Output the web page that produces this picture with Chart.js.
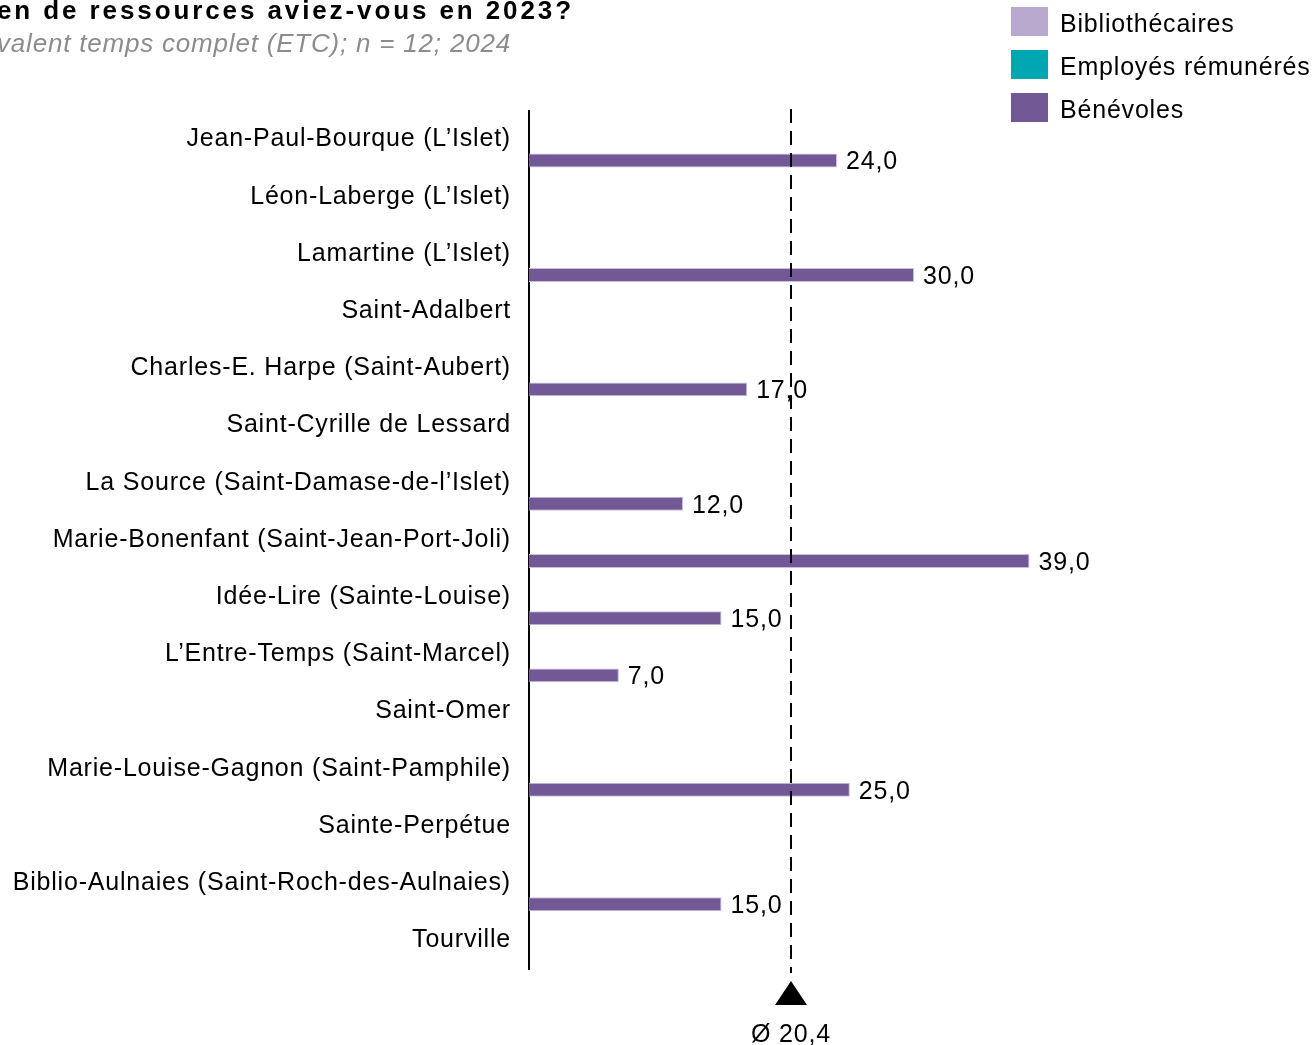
<!DOCTYPE html>
<html><head><meta charset="utf-8">
<script src="https://cdn.jsdelivr.net/npm/chart.js@4/dist/chart.umd.min.js"></script>
<style>html,body{margin:0;padding:0;background:#fff}#wrap{width:1314px;height:1045px;position:relative}</style>
</head><body><div id="wrap"><canvas id="c"></canvas></div>
<script>
const categories = ["Jean-Paul-Bourque (L\u2019Islet)","L\u00e9on-Laberge (L\u2019Islet)","Lamartine (L\u2019Islet)","Saint-Adalbert","Charles-E. Harpe (Saint-Aubert)","Saint-Cyrille de Lessard","La Source (Saint-Damase-de-l\u2019Islet)","Marie-Bonenfant (Saint-Jean-Port-Joli)","Id\u00e9e-Lire (Sainte-Louise)","L\u2019Entre-Temps (Saint-Marcel)","Saint-Omer","Marie-Louise-Gagnon (Saint-Pamphile)","Sainte-Perp\u00e9tue","Biblio-Aulnaies (Saint-Roch-des-Aulnaies)","Tourville"];
const bibliothecaires = [null,null,null,null,null,null,null,null,null,null,null,null,null,null,null];
const employes = [null,null,null,null,null,null,null,null,null,null,null,null,null,null,null];
const benevoles = [24,null,30,null,17,null,12,39,15,7,null,25,null,15,null];
const average = 20.4;
const seriesNames = ["Biblioth\u00e9caires","Employ\u00e9s r\u00e9mun\u00e9r\u00e9s","B\u00e9n\u00e9voles"];
const titleText = "en de ressources aviez-vous en 2023?";
const subtitleText = "valent temps complet (ETC); n = 12; 2024";

const FONT = "'Liberation Sans', Arial, sans-serif";
const fmt = v => v.toFixed(1).replace('.', ',');

const spacing = {
  id: 'spacing',
  beforeDraw(chart) { chart.ctx.letterSpacing = '0.8px'; }
};

const extras = {
  id: 'extras',
  afterDatasetsDraw(chart) {
    const ctx = chart.ctx, ca = chart.chartArea, xs = chart.scales.x;
    ctx.save();
    ctx.letterSpacing = '0.8px';
    // value labels
    ctx.font = "25px " + FONT; ctx.fillStyle = "#000"; ctx.textBaseline = "middle"; ctx.textAlign = "left";
    chart.data.datasets.forEach((ds, di) => {
      const meta = chart.getDatasetMeta(di);
      meta.data.forEach((el, i) => {
        const v = ds.data[i];
        if (v == null) return;
        ctx.fillText(fmt(v), el.x + 9, el.y + 2);
      });
    });
    // average line
    const ax = Math.round(xs.getPixelForValue(average));
    ctx.strokeStyle = "#000"; ctx.lineWidth = 2; ctx.setLineDash([14, 8]);
    ctx.beginPath(); ctx.moveTo(ax, ca.top - 2); ctx.lineTo(ax, ca.bottom + 4); ctx.stroke();
    ctx.setLineDash([]);
    ctx.beginPath(); ctx.moveTo(ax, ca.bottom + 12); ctx.lineTo(ax - 16, ca.bottom + 36); ctx.lineTo(ax + 16, ca.bottom + 36); ctx.closePath();
    ctx.fillStyle = "#000"; ctx.fill();
    ctx.textAlign = "center"; ctx.textBaseline = "alphabetic";
    ctx.fillText("\u00d8 " + fmt(average), ax, ca.bottom + 73);
    // title
    ctx.textAlign = "left";
    ctx.letterSpacing = '2.9px';
    ctx.font = "bold 26px " + FONT; ctx.fillStyle = "#000";
    ctx.fillText(titleText, -3, 19);
    ctx.letterSpacing = '0.8px';
    ctx.font = "italic 26px " + FONT; ctx.fillStyle = "#8c8c8c";
    ctx.fillText(subtitleText, -3, 52);
    // legend
    ctx.font = "25px " + FONT;
    chart.data.datasets.forEach((ds, di) => {
      const y = 7 + di * 43;
      ctx.fillStyle = ds.backgroundColor;
      ctx.fillRect(1011, y, 37, 29);
      ctx.fillStyle = "#000"; ctx.textBaseline = "middle";
      ctx.fillText(ds.label, 1060, y + 18);
    });
    ctx.restore();
  }
};

new Chart(document.getElementById('c'), {
  type: 'bar',
  data: {
    labels: categories,
    datasets: [
      {label: seriesNames[0], data: bibliothecaires, backgroundColor: '#B9A8CE', borderColor: '#cdbfe0', borderWidth: 1},
      {label: seriesNames[1], data: employes, backgroundColor: '#00A7B3', borderColor: '#00A7B3', borderWidth: 1},
      {label: seriesNames[2], data: benevoles, backgroundColor: '#735896', borderColor: '#c9bddb', borderWidth: 1}
    ]
  },
  options: {
    indexAxis: 'y',
    responsive: true,
    maintainAspectRatio: false,
    animation: false,
    events: [],
    layout: {padding: {top: 111, bottom: 76, left: 0, right: 15}},
    datasets: {bar: {categoryPercentage: 1.1, barPercentage: 0.667}},
    plugins: {legend: {display: false}, title: {display: false}, tooltip: {enabled: false}},
    scales: {
      x: {display: false, min: 0, max: 60},
      y: {
        grid: {display: false, drawTicks: false},
        border: {display: true, color: '#000', width: 2},
        ticks: {color: '#000', font: {family: FONT, size: 25}, padding: 18, autoSkip: false},
        afterFit(scale) { scale.width = 529; }
      }
    }
  },
  plugins: [spacing, extras]
});
</script></body></html>
